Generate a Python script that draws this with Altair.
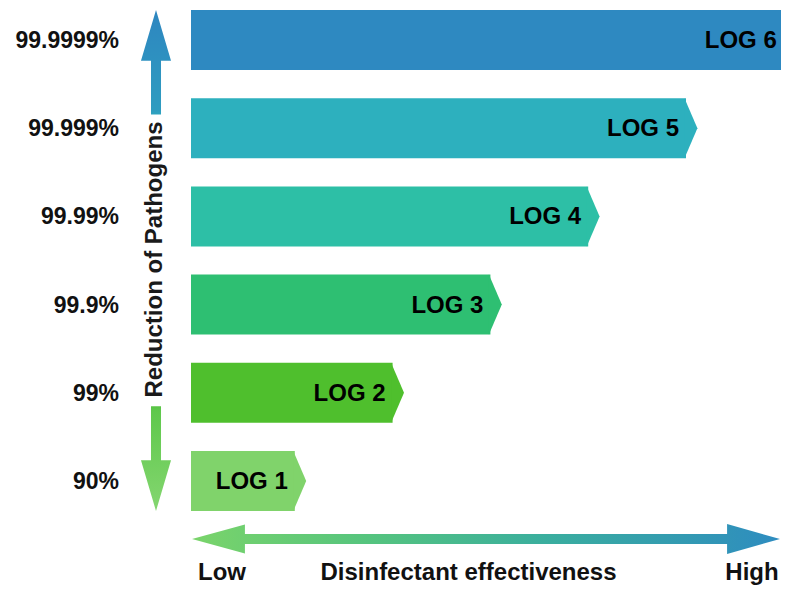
import altair as alt
import pandas as pd

levels = ["LOG 1", "LOG 2", "LOG 3", "LOG 4", "LOG 5", "LOG 6"]
log_values = [1, 2, 3, 4, 5, 6]
reductions = ["90%", "99%", "99.9%", "99.99%", "99.999%", "99.9999%"]
bar_colors = ["#80D36B", "#4FBF2D", "#2EBF72", "#2DBFA6", "#2DB0BE", "#2E89C1"]
axis_title = ["Reduction of Pathogens"]
bottom_low = ["Low"]
bottom_mid = ["Disinfectant effectiveness"]
bottom_high = ["High"]

FONT = "Liberation Sans"

df = pd.DataFrame({"level": levels, "value": log_values, "reduction": reductions})

xs = alt.Scale(domain=[0, 6], range=[189, 775.8])
ys = alt.Scale(domain=reductions[::-1], range=[2, 503], paddingInner=0.32, paddingOuter=0)
cs = alt.Scale(domain=levels, range=bar_colors)

base = alt.Chart(df)

bars = base.mark_rect().encode(
    x=alt.X("value:Q", scale=xs, axis=None),
    x2=alt.value(183),
    y=alt.Y("reduction:N", scale=ys, axis=None),
    color=alt.Color("level:N", scale=cs, legend=None),
)

tips = base.transform_filter("datum.value < 6").mark_point(
    shape="M-0.05,-1L0.38,0L-0.05,1Z", size=3600, filled=True, opacity=1, strokeWidth=0
).encode(
    x=alt.X("value:Q", scale=xs, axis=None),
    y=alt.Y("reduction:N", scale=ys, axis=None),
    color=alt.Color("level:N", scale=cs, legend=None),
)

bar_labels = base.mark_text(
    align="right", baseline="middle", dx=-7, dy=1, font=FONT, fontSize=24, fontWeight="bold", color="#000000"
).encode(
    x=alt.X("value:Q", scale=xs, axis=None),
    y=alt.Y("reduction:N", scale=ys, axis=None),
    text="level:N",
)

left_labels = base.mark_text(
    align="right", baseline="middle", dy=1, font=FONT, fontSize=23, fontWeight="bold", color="#111111"
).encode(
    x=alt.value(111),
    y=alt.Y("reduction:N", scale=ys, axis=None),
    text="reduction:N",
)

v_grad = alt.Gradient(
    gradient="linear",
    stops=[
        alt.GradientStop(color="#2E86C0", offset=0),
        alt.GradientStop(color="#2E9CC0", offset=0.2),
        alt.GradientStop(color="#2DAFBE", offset=0.22),
        alt.GradientStop(color="#2EBC9A", offset=0.5),
        alt.GradientStop(color="#4FBF3A", offset=0.78),
        alt.GradientStop(color="#5FC84C", offset=0.8),
        alt.GradientStop(color="#84D670", offset=1),
    ],
    x1=0, x2=0, y1=0, y2=1,
)

v_path = (
    "M0,-1L0.06,-0.797L0.02,-0.797L0.02,-0.583L-0.02,-0.583L-0.02,-0.797L-0.06,-0.797Z"
    "M-0.02,0.582L0.02,0.582L0.02,0.797L0.06,0.797L0,1L-0.06,0.797L-0.02,0.797Z"
)

v_df = pd.DataFrame({"t": axis_title})
v_arrow = alt.Chart(v_df).mark_point(
    shape=v_path, size=501 * 501, filled=True, opacity=1, strokeWidth=0, color=v_grad
).encode(x=alt.value(148), y=alt.value(252.5))

v_text = alt.Chart(v_df).mark_text(
    angle=270, align="center", baseline="middle", font=FONT, fontSize=24, fontWeight="bold", color="#1a1a1a"
).encode(x=alt.value(147), y=alt.value(251.5), text="t:N")

h_grad = alt.Gradient(
    gradient="linear",
    stops=[
        alt.GradientStop(color="#7AD46A", offset=0),
        alt.GradientStop(color="#55C47E", offset=0.3),
        alt.GradientStop(color="#3AAE9E", offset=0.6),
        alt.GradientStop(color="#2E8CC0", offset=1),
    ],
    x1=0, x2=1, y1=0, y2=0,
)

h_path = (
    "M-1,0L-0.82,-0.049L-0.82,-0.017L0.82,-0.017L0.82,-0.051L1,0L0.82,0.051L0.82,0.017"
    "L-0.82,0.017L-0.82,0.049Z"
)
h_df = pd.DataFrame({"low": bottom_low, "mid": bottom_mid, "high": bottom_high})
h_arrow = alt.Chart(h_df).mark_point(
    shape=h_path, size=588 * 588, filled=True, opacity=1, strokeWidth=0, color=h_grad
).encode(x=alt.value(478), y=alt.value(531))

txt_kw = dict(align="center", baseline="alphabetic", font=FONT, fontSize=24, fontWeight="bold", color="#111111")
low_t = alt.Chart(h_df).mark_text(**txt_kw).encode(x=alt.value(214), y=alt.value(572), text="low:N")
mid_t = alt.Chart(h_df).mark_text(**txt_kw).encode(x=alt.value(460.5), y=alt.value(572), text="mid:N")
high_t = alt.Chart(h_df).mark_text(**txt_kw).encode(x=alt.value(744), y=alt.value(572), text="high:N")

chart = alt.layer(
    bars, tips, bar_labels, left_labels, v_arrow, v_text, h_arrow, low_t, mid_t, high_t
).properties(
    width=773, height=580, autosize=alt.AutoSizeParams(type="none"), padding=0,
    background="#FFFFFF",
).configure_view(stroke=None)

chart.save("out.html", embed_options={"renderer": "svg", "actions": False})
